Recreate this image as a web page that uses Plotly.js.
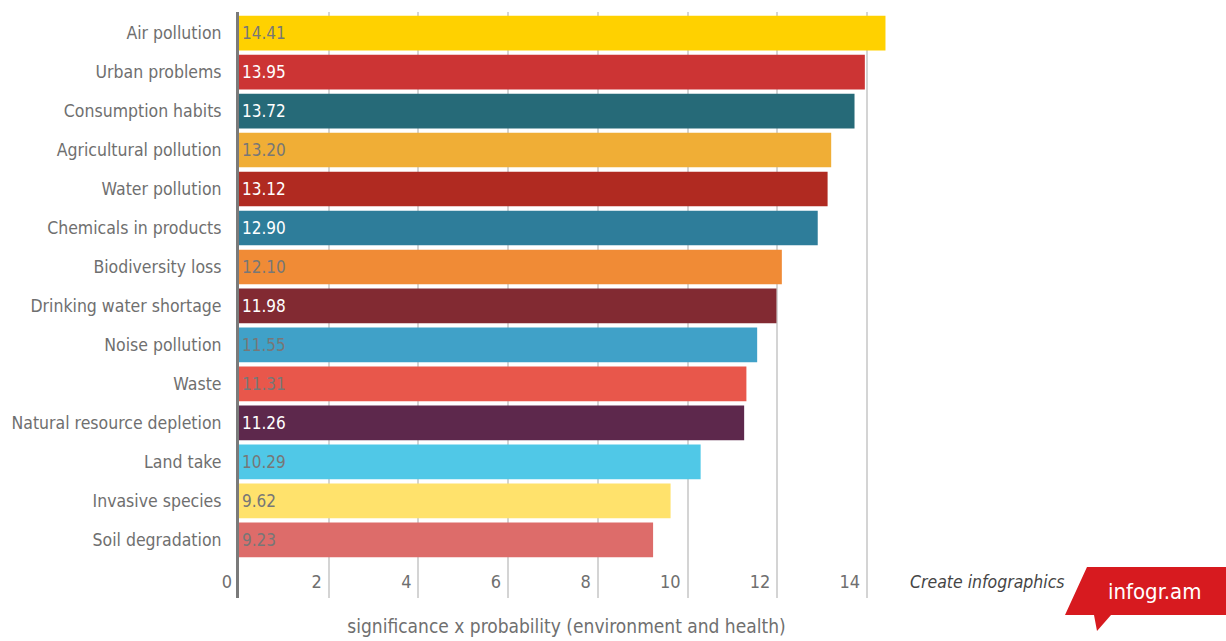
<!DOCTYPE html>
<html>
<head>
<meta charset="utf-8">
<script src="https://cdn.plot.ly/plotly-3.0.1.min.js"></script>
<style>
  html, body { margin: 0; padding: 0; background: #ffffff; }
  #chart { width: 1226px; height: 641px; }
</style>
</head>
<body>
<div id="chart"></div>
<script>
// Environmental issues ranked by significance x probability
const issues = [
  "Air pollution", "Urban problems", "Consumption habits", "Agricultural pollution",
  "Water pollution", "Chemicals in products", "Biodiversity loss", "Drinking water shortage",
  "Noise pollution", "Waste", "Natural resource depletion", "Land take",
  "Invasive species", "Soil degradation"
];
const scores = [14.41, 13.95, 13.72, 13.20, 13.12, 12.90, 12.10, 11.98, 11.55, 11.31, 11.26, 10.29, 9.62, 9.23];
const barColors = [
  "#FFD100", "#CC3434", "#266A78", "#F0AE36", "#B02A21", "#2E7D9A", "#F08B36",
  "#822A32", "#40A1C8", "#E8574B", "#5D284C", "#50C8E7", "#FFE26C", "#DD6C6A"
];
const labelColors = [
  "#777777", "#ffffff", "#ffffff", "#777777", "#ffffff", "#ffffff", "#777777",
  "#ffffff", "#777777", "#777777", "#ffffff", "#777777", "#777777", "#777777"
];
const xTicks = [0, 2, 4, 6, 8, 10, 12, 14];
const xTitle = "significance x probability (environment and health)";

const FONT = "'Liberation Sans Narrow', 'DejaVu Sans Condensed', 'Roboto', sans-serif";
const W = 1226, H = 641;
const M = { l: 239, r: 332, t: 12, b: 43 };

// pixel -> paper helpers for the branding badge
const px = x => (x - M.l) / (W - M.l - M.r);
const py = y => (H - M.b - y) / (H - M.t - M.b);

const trace = {
  type: "bar",
  orientation: "h",
  y: issues,
  x: scores,
  text: scores.map(v => v.toFixed(2)),
  textposition: "inside",
  insidetextanchor: "start",
  constraintext: "none",
  textangle: 0,
  textfont: { family: FONT, size: 17, color: labelColors },
  marker: { color: barColors, line: { width: 0 } },
  hoverinfo: "y+x",
  cliponaxis: false
};

const badge = `M ${px(1087)} ${py(567)} L ${px(1226)} ${py(567)} L ${px(1226)} ${py(615)} ` +
  `L ${px(1111)} ${py(615)} L ${px(1097)} ${py(631)} L ${px(1094)} ${py(615)} L ${px(1065)} ${py(615)} Z`;

const layout = {
  width: W, height: H,
  margin: M,
  paper_bgcolor: "#ffffff",
  plot_bgcolor: "#ffffff",
  showlegend: false,
  bargap: 0.11,
  font: { family: FONT, color: "#6f6f6f", size: 17.5 },
  xaxis: {
    range: [0, 14.6],
    tickvals: xTicks,
    ticktext: xTicks.map(String),
    ticklabelposition: "inside left",
    ticklabeloverflow: "allow",
    ticklabelshift: -7,
    tickfont: { family: FONT, size: 18, color: "#6f6f6f" },
    showgrid: true,
    gridcolor: "#d4d4d4",
    gridwidth: 2,
    zeroline: false,
    showline: false,
    ticks: "",
    fixedrange: true,
    title: { text: xTitle, font: { family: FONT, size: 19, color: "#6f6f6f" }, standoff: 28 }
  },
  yaxis: {
    type: "category",
    autorange: false,
    range: [14.49, -0.54],
    showline: true,
    linecolor: "#7a7a7a",
    linewidth: 3,
    showgrid: false,
    zeroline: false,
    ticks: "",
    ticklabelstandoff: 11,
    tickfont: { family: FONT, size: 17.5, color: "#6f6f6f" },
    fixedrange: true
  },
  shapes: [
    { type: "path", xref: "paper", yref: "paper", path: badge,
      fillcolor: "#D71A1F", line: { width: 0 }, layer: "above" }
  ],
  annotations: [
    { xref: "paper", yref: "paper", x: px(1067), y: py(582), xanchor: "right", yanchor: "middle",
      text: "<i>Create infographics</i>", showarrow: false,
      font: { family: FONT, size: 17.5, color: "#454545" } },
    { xref: "paper", yref: "paper", x: px(1155), y: py(591), xanchor: "center", yanchor: "middle",
      text: "infogr.am", showarrow: false,
      font: { family: FONT, size: 22, color: "#ffffff" } }
  ]
};

Plotly.newPlot("chart", [trace], layout, { displayModeBar: false, staticPlot: true });
</script>
</body>
</html>
